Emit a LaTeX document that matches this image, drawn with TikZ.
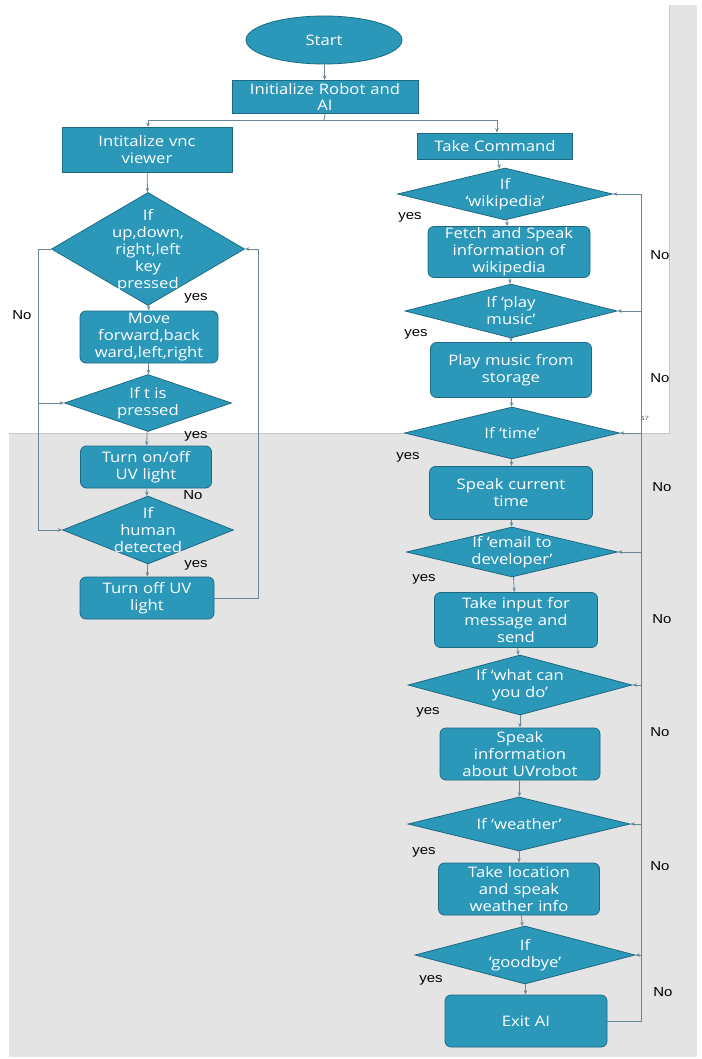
\documentclass[tikz,border=0pt]{standalone}
\usepackage{fontspec}
\usetikzlibrary{shapes.geometric,arrows.meta}
\newfontfamily\boxfontfam[FakeStretch=1.15]{Open Sans}
\newfontfamily\labfontfam[FakeStretch=1.15]{Liberation Sans}
\newcommand\bxf{\boxfontfam\fontsize{14.5}{17}\selectfont}
\newcommand\lbf{\labfontfam\fontsize{13}{15}\selectfont}
\definecolor{boxC}{RGB}{44,152,185}
\definecolor{edgeC}{RGB}{30,105,130}
\definecolor{lineC}{RGB}{105,135,152}
\definecolor{bgC}{RGB}{228,228,228}
\tikzset{
  conn/.style={draw=lineC, line width=0.8pt},
  arr/.style={conn, -{Stealth[length=4.5pt,width=3.5pt]}},
  proc/.style={draw=edgeC, line width=0.8pt, fill=boxC, text=white, font=\bxf, align=center, inner sep=0pt, rounded corners=6pt},
  sq/.style={proc, rounded corners=0pt},
  startsh/.style={proc, ellipse, rounded corners=0pt},
  dia/.style={draw=edgeC, line width=0.8pt, fill=boxC, diamond, inner sep=0pt},
  dtext/.style={text=white, font=\bxf, align=center, inner sep=0pt},
  lab/.style={font=\lbf, text=black, inner sep=0pt},
}
\begin{document}
\begin{tikzpicture}[x=1pt,y=-1pt]
\useasboundingbox (0,0) rectangle (701,1059);
% background (screenshot)
\fill[white] (0,0) rectangle (701,1059);
\fill[bgC] (9,5) rectangle (697,1057);
\fill[white] (0,0) rectangle (669,433);
\draw[black!22, line width=0.8pt] (669,5) -- (669,433) -- (9,433);
\node[font=\labfontfam\fontsize{6}{7}\selectfont, text=black!70, inner sep=0pt] (pg) at (645,418) {17};

% ---- top ----
\node[startsh, minimum width=156pt, minimum height=48pt] (start) at (324,40) {Start};
\node[sq, minimum width=186pt, minimum height=33pt, text width=180pt] (init) at (325,97) {Initialize Robot and\\[-1pt]AI};
\node[sq, minimum width=170pt, minimum height=45pt, text width=164pt] (vnc) at (147,150) {Intitalize vnc\\viewer};
\node[sq, minimum width=155pt, minimum height=26pt, text width=150pt] (take) at (495,146) {Take Command};

\draw[arr] (start) -- (init);
\coordinate (split) at (324,120);
\coordinate (splL) at (148,120);
\coordinate (splR) at (497,120);
\draw[conn] (init.south) -- (split);
\draw[arr] (split) -- (splL) -- (splL |- vnc.north);
\draw[arr] (split) -- (splR) -- (splR |- take.north);

% ---- left column ----
\node[dia, minimum width=193pt, minimum height=113pt] (d1) at (148,249) {};
\node[dtext] (d1t) at (148,251) {If\\up,down,\\right,left\\key\\pressed};
\node[proc, minimum width=138pt, minimum height=52pt, text width=134pt] (move) at (149,337) {Move\\forward,back\\ward,left,right};
\node[dia, minimum width=167pt, minimum height=57pt] (d2) at (148,403) {};
\node[dtext] (d2t) at (148,403) {If t is\\pressed};
\node[proc, minimum width=131pt, minimum height=42pt, text width=126pt] (uv1) at (146,467) {Turn on/off\\UV light};
\node[dia, minimum width=171pt, minimum height=68pt] (d3) at (148,530) {};
\node[dtext] (d3t) at (148,530) {If\\human\\detected};
\node[proc, minimum width=134pt, minimum height=42pt, text width=128pt] (uv2) at (147,598) {Turn off UV\\light};

\draw[arr] (vnc) -- (d1);
\draw[arr] (d1) -- (move);
\draw[arr] (move) -- (d2);
\draw[arr] (d2) -- (uv1);
\draw[arr] (uv1) -- (d3);
\draw[arr] (d3) -- (uv2);

\coordinate (lA) at (38,249);
\coordinate (lB) at (38,403);
\coordinate (lC) at (38,530);
\draw[conn] (d1.west) -- (lA) -- (lC);
\draw[arr] (lB) -- (d2.west);
\draw[arr] (lC) -- (d3.west);
\coordinate (rA) at (258,598);
\coordinate (rB) at (258,249);
\draw[arr] (uv2.east) -- (rA) -- (rB) -- (d1.east);

\node[lab] (nL) at (22,315) {No};
\node[lab] (y1) at (196,298) {yes};
\node[lab] (y2) at (196,436) {yes};
\node[lab] (nL2) at (193,495) {No};
\node[lab] (y3) at (196,565) {yes};

% ---- right column ----
\node[dia, minimum width=215pt, minimum height=52pt] (dw) at (505,194) {};
\node[dtext] (dwt) at (505,194) {If\\‘wikipedia’};
\node[proc, minimum width=162pt, minimum height=51pt, text width=158pt] (fetch) at (509,252) {Fetch and Speak\\information of\\wikipedia};
\node[dia, minimum width=212pt, minimum height=54pt] (dp) at (511,311) {};
\node[dtext] (dpt) at (511,311) {If ‘play\\music’};
\node[proc, minimum width=161pt, minimum height=55pt, text width=156pt] (play) at (511,370) {Play music from\\storage};
\node[dia, minimum width=215pt, minimum height=52pt] (dt) at (512,433) {};
\node[dtext] (dtt) at (512,433) {If ‘time’};
\node[proc, minimum width=163pt, minimum height=53pt, text width=158pt] (spt) at (511,493) {Speak current\\time};
\node[dia, minimum width=211pt, minimum height=50pt] (de) at (512,552) {};
\node[dtext] (det) at (512,552) {If ‘email to\\developer’};
\node[proc, minimum width=163pt, minimum height=55pt, text width=158pt] (inp) at (516,620) {Take input for\\message and\\send};
\node[dia, minimum width=224pt, minimum height=60pt] (dc) at (520,685) {};
\node[dtext] (dct) at (520,685) {If ‘what can\\you do’};
\node[proc, minimum width=160pt, minimum height=52pt, text width=156pt] (info) at (520,754) {Speak\\information\\about UVrobot};
\node[dia, minimum width=222pt, minimum height=54pt] (dwe) at (519,824) {};
\node[dtext] (dwet) at (519,824) {If ‘weather’};
\node[proc, minimum width=161pt, minimum height=52pt, text width=156pt] (loc) at (519,889) {Take location\\and speak\\weather info};
\node[dia, minimum width=220pt, minimum height=58pt] (dg) at (525,955) {};
\node[dtext] (dgt) at (525,955) {If\\‘goodbye’};
\node[proc, minimum width=162pt, minimum height=52pt, text width=156pt] (exit) at (526,1021) {Exit AI};

\draw[arr] (take) -- (dw);
\draw[arr] (dw) -- (fetch);
\draw[arr] (fetch) -- (dp);
\draw[arr] (dp) -- (play);
\draw[arr] (play) -- (dt);
\draw[arr] (dt) -- (spt);
\draw[arr] (spt) -- (de);
\draw[arr] (de) -- (inp);
\draw[arr] (inp) -- (dc);
\draw[arr] (dc) -- (info);
\draw[arr] (info) -- (dwe);
\draw[arr] (dwe) -- (loc);
\draw[arr] (loc) -- (dg);
\draw[arr] (dg) -- (exit);

\coordinate (rx0) at (641,1021);
\coordinate (rx1) at (641,194);
\draw[conn] (exit.east) -- (rx0) -- (rx1);
\foreach \d in {dw,dp,dt,de,dc,dwe,dg}{
  \draw[arr] (\d.east -| rx0) -- (\d.east);
}

\node[lab] (ry1) at (410,217) {yes};
\node[lab] (ry2) at (416,334) {yes};
\node[lab] (ry3) at (408,457) {yes};
\node[lab] (ry4) at (424,579) {yes};
\node[lab] (ry5) at (428,712) {yes};
\node[lab] (ry6) at (424,852) {yes};
\node[lab] (ry7) at (431,980) {yes};
\node[lab] (rn1) at (660,255) {No};
\node[lab] (rn2) at (660,378) {No};
\node[lab] (rn3) at (662,487) {No};
\node[lab] (rn4) at (662,619) {No};
\node[lab] (rn5) at (660,732) {No};
\node[lab] (rn6) at (660,866) {No};
\node[lab] (rn7) at (663,992) {No};
\end{tikzpicture}
\end{document}
